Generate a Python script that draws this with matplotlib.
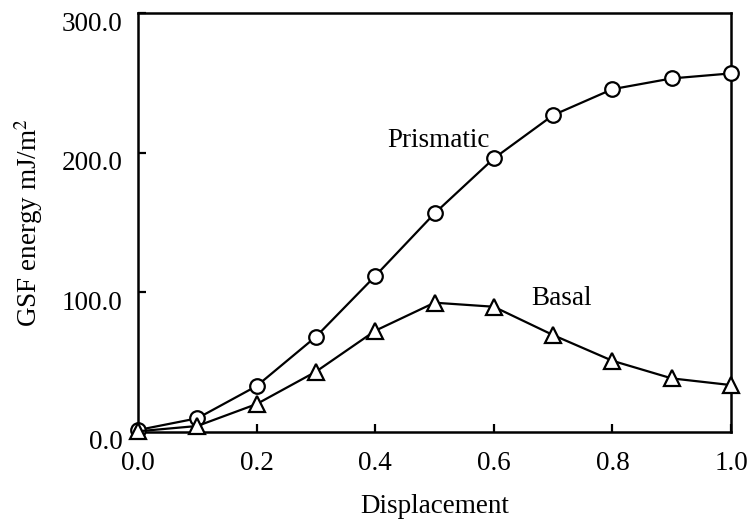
import matplotlib
matplotlib.use('Agg')
import matplotlib.pyplot as plt
import matplotlib.transforms as mtransforms
from matplotlib.ticker import FormatStrFormatter, MultipleLocator

# Данные
displacement = [0.0, 0.1, 0.2, 0.3, 0.4, 0.5, 0.6, 0.7, 0.8, 0.9, 1.0]
prismatic = [1.4, 9.8, 32.9, 68.2, 111.7, 156.5, 195.9, 226.9, 245.5, 253.2, 256.8]
basal = [0.5, 4.3, 20.0, 43.2, 72.5, 92.6, 89.7, 69.4, 51.0, 38.4, 33.6]

plt.rcParams['font.family'] = ['Liberation Serif', 'DejaVu Serif']
plt.rcParams['mathtext.fontset'] = 'stix'

FS = 19.5

fig = plt.figure(figsize=(7.5, 5.23), dpi=100)
ax = fig.add_axes([0.184, 0.174, 0.7907, 0.801])

ax.plot(displacement, prismatic, color='black', lw=1.6, marker='o', ms=10.5,
        mfc='white', mec='black', mew=1.6, clip_on=False, zorder=3)
ax.plot(displacement, basal, color='black', lw=1.6, marker='^', ms=11,
        mfc='white', mec='black', mew=1.6, clip_on=False, zorder=3)

ax.set_xlim(0, 1.0)
ax.set_ylim(0, 300)
ax.xaxis.set_major_locator(MultipleLocator(0.2))
ax.yaxis.set_major_locator(MultipleLocator(100))
ax.xaxis.set_major_formatter(FormatStrFormatter('%.1f'))
ax.yaxis.set_major_formatter(FormatStrFormatter('%.1f'))
ax.tick_params(direction='in', length=6, width=1.6, labelsize=FS)
ax.tick_params(axis='x', pad=14)
ax.tick_params(axis='y', pad=11)

# подписи оси Y чуть ниже засечек, как в Excel
shift = mtransforms.ScaledTranslation(0, -0.08, fig.dpi_scale_trans)
for lab in ax.get_yticklabels():
    lab.set_transform(lab.get_transform() + shift)

for s in ax.spines.values():
    s.set_linewidth(1.8)

ax.set_xlabel('Displacement', fontsize=FS, labelpad=13)
ax.set_ylabel('GSF energy mJ/m$^2$', fontsize=FS)
ax.yaxis.set_label_coords(-0.156, 0.5)

ax.text(0.42, 209, 'Prismatic', fontsize=FS, va='center', ha='left')
ax.text(0.664, 95.5, 'Basal', fontsize=FS, va='center', ha='left')

fig.savefig('out.png', dpi=100)
